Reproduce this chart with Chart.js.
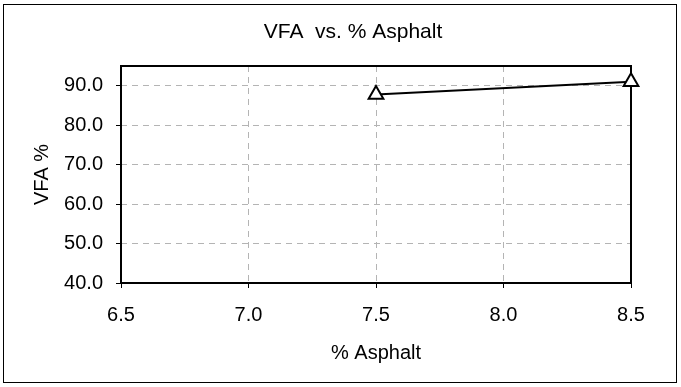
<!DOCTYPE html>
<html>
<head>
<meta charset="utf-8">
<script src="https://cdn.jsdelivr.net/npm/chart.js@4/dist/chart.umd.min.js"></script>
<style>
  html, body { margin: 0; padding: 0; background: #fff; }
  #wrap { width: 681px; height: 387px; }
</style>
</head>
<body>
<div id="wrap"><canvas id="vfaChart" width="681" height="387"></canvas></div>
<script>
const asphalt = [7.5, 8.5];
const vfa = [87.8, 91.0];
const xTicks = [6.5, 7.0, 7.5, 8.0, 8.5];
const yTicks = [40, 50, 60, 70, 80, 90];

const FONT = "'Liberation Sans', Arial, sans-serif";

// outer frame, plot frame and the title
const frame = {
    id: "frame",
    beforeDraw(chart) {
        const c = chart.ctx;
        c.save();
        c.fillStyle = "#fff";
        c.fillRect(0, 0, chart.width, chart.height);
        c.strokeStyle = "#000";
        c.lineWidth = 1;
        c.strokeRect(3.5, 4.5, 673, 378);
        c.fillStyle = "#000";
        c.font = "21px " + FONT;
        c.textAlign = "center";
        c.textBaseline = "middle";
        c.fillText("VFA  vs. % Asphalt", 353, 32);
        c.restore();
    },
    beforeDatasetsDraw(chart) {
        const a = chart.chartArea;
        const c = chart.ctx;
        c.save();
        c.strokeStyle = "#000";
        c.lineWidth = 2;
        c.strokeRect(a.left, a.top, a.right - a.left, a.bottom - a.top);
        c.restore();
    }
};

const gridOpts = {
    color: "#b4b4b4",
    tickColor: "#000",
    tickBorderDash: [1, 0],
    tickLength: 5
};

new Chart(document.getElementById("vfaChart"), {
    type: "scatter",
    data: {
        datasets: [{
            label: "VFA",
            data: asphalt.map((x, i) => ({ x, y: vfa[i] })),
            showLine: true,
            clip: false,
            borderColor: "#000",
            borderWidth: 2,
            pointStyle: "triangle",
            pointRadius: 8.5,
            pointBackgroundColor: "#fff",
            pointBorderColor: "#000",
            pointBorderWidth: 2
        }]
    },
    options: {
        responsive: false,
        animation: false,
        layout: { padding: { left: 0, right: 50, top: 66, bottom: 0 } },
        plugins: {
            legend: { display: false },
            tooltip: { enabled: false }
        },
        scales: {
            x: {
                type: "linear",
                min: 6.5,
                max: 8.5,
                afterBuildTicks: s => { s.ticks = xTicks.map(v => ({ value: v })); },
                afterFit: s => { s.height = 104; },
                ticks: {
                    color: "#000",
                    font: { family: FONT, size: 20 },
                    padding: 15,
                    maxRotation: 0,
                    callback: v => v.toFixed(1)
                },
                grid: gridOpts,
                border: { display: false, dash: [6, 5] },
                title: {
                    display: true,
                    text: "% Asphalt",
                    color: "#000",
                    font: { family: FONT, size: 20 },
                    padding: { top: 0, bottom: 22 }
                }
            },
            y: {
                min: 40,
                max: 95,
                afterBuildTicks: s => { s.ticks = yTicks.map(v => ({ value: v })); },
                afterFit: s => { s.width = 121; },
                ticks: {
                    color: "#000",
                    font: { family: FONT, size: 20 },
                    padding: 13,
                    callback: v => v.toFixed(1)
                },
                grid: gridOpts,
                border: { display: false, dash: [6, 5] },
                title: {
                    display: true,
                    text: "VFA %",
                    color: "#000",
                    font: { family: FONT, size: 20 },
                    padding: { top: 30, bottom: 0 }
                }
            }
        }
    },
    plugins: [frame]
});
</script>
</body>
</html>
